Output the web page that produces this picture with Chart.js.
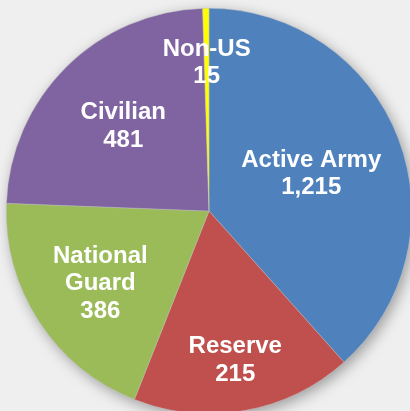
<!DOCTYPE html>
<html>
<head>
<meta charset="utf-8">
<script src="https://cdn.jsdelivr.net/npm/chart.js"></script>
<style>
  html,body{margin:0;padding:0;background:#efefef;overflow:hidden;}
  #pie{position:absolute;left:0;top:0;}
</style>
</head>
<body>
<canvas id="pie" width="418" height="422"></canvas>
<script>
// categories, in clockwise order from 12 o'clock
const categories = ['Active Army', 'Reserve', 'National Guard', 'Civilian', 'Non-US'];
// numbers printed in the labels
const counts = ['1,215', '215', '386', '481', '15'];
// slice sizes as drawn (percent of the circle)
const shares = [38.4, 17.6, 19.6, 23.9, 0.5];

const colors = ['#4f81bd', '#c0504d', '#9bbb59', '#8064a2', '#ffff00'];
// label lines and how far out (fraction of radius) each label sits
const labelLines = [['Active Army'], ['Reserve'], ['National', 'Guard'], ['Civilian'], ['Non-US']];
const labelRadius = [0.54, 0.74, 0.64, 0.60, 0.74];

// soft drop shadow under the whole pie
const pieShadow = {
  id: 'pieShadow',
  beforeDatasetsDraw(chart){
    const arc = chart.getDatasetMeta(0).data[0];
    if(!arc) return;
    const ctx = chart.ctx;
    ctx.save();
    ctx.shadowColor = 'rgba(0,0,0,0.35)';
    ctx.shadowBlur = 14;
    ctx.shadowOffsetX = 3;
    ctx.shadowOffsetY = 4;
    ctx.fillStyle = '#dddddd';
    ctx.beginPath();
    ctx.arc(arc.x, arc.y, arc.outerRadius, 0, Math.PI*2);
    ctx.fill();
    ctx.restore();
  }
};

// white labels inside the slices
const sliceLabels = {
  id: 'sliceLabels',
  afterDatasetsDraw(chart){
    const ctx = chart.ctx;
    ctx.save();
    ctx.fillStyle = '#ffffff';
    ctx.font = 'bold 24px "Liberation Sans", Arial, sans-serif';
    ctx.textAlign = 'center';
    ctx.textBaseline = 'alphabetic';
    chart.getDatasetMeta(0).data.forEach((arc, i)=>{
      const mid = (arc.startAngle + arc.endAngle)/2;
      const r = arc.outerRadius*labelRadius[i];
      const cx = arc.x + Math.cos(mid)*r;
      const cy = arc.y + Math.sin(mid)*r;
      const lines = labelLines[i].concat([counts[i]]);
      const lh = 27.5;
      const top = cy - lh*(lines.length-1)/2;
      lines.forEach((t, k)=> ctx.fillText(t, cx, top + k*lh + 8.5));
    });
    ctx.restore();
  }
};

new Chart(document.getElementById('pie'), {
  type: 'pie',
  data: {
    labels: categories,
    datasets: [{
      data: shares,
      backgroundColor: colors,
      borderColor: 'rgba(190,190,190,0.7)',
      borderWidth: 0.6
    }]
  },
  options: {
    responsive: false,
    animation: false,
    devicePixelRatio: 1,
    layout: {padding: 6},
    plugins: {legend: {display: false}, tooltip: {enabled: false}}
  },
  plugins: [pieShadow, sliceLabels]
});
</script>
</body>
</html>
